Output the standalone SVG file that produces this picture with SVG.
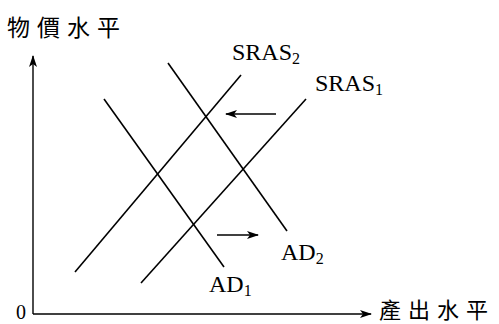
<svg xmlns="http://www.w3.org/2000/svg" width="499" height="324" viewBox="0 0 499 324">
<defs>
<marker id="ah" viewBox="0 0 12 8" refX="11" refY="4" markerWidth="12" markerHeight="8" markerUnits="userSpaceOnUse" orient="auto">
<path d="M0,0 L12,4 L0,8 L3,4 Z" fill="#000"/>
</marker>
</defs>
<style>
.ln{stroke:#000;stroke-width:1.6;fill:none}
.ax{stroke:#000;stroke-width:1.4;fill:none}
.lab{font-family:"Liberation Serif",serif;font-size:24px;fill:#000}
.sub{font-size:16px}
.cjk{font-family:"Noto Sans CJK TC","Noto Sans CJK SC",sans-serif;font-size:23px;fill:#000;letter-spacing:7px}
</style>
<rect width="499" height="324" fill="#fff"/>
<g id="axes">
<line class="ax" x1="33" y1="314" x2="33" y2="56" marker-end="url(#ah)"/>
<line class="ax" x1="33" y1="314" x2="371" y2="314" marker-end="url(#ah)"/>
<text x="16" y="319" style="font-family:'Liberation Serif',serif;font-size:20px">0</text>
</g>
<g id="y-label"><text class="cjk" x="7" y="36">物價水平</text></g>
<g id="x-label"><text class="cjk" x="379" y="318" style="font-size:22px">產出水平</text></g>
<g id="connectors">
<line id="sras2" class="ln" x1="75" y1="272" x2="241" y2="75"/>
<line id="sras1" class="ln" x1="141" y1="283" x2="306" y2="99"/>
<line id="ad2" class="ln" x1="168" y1="63" x2="287" y2="231"/>
<line id="ad1" class="ln" x1="104" y1="99" x2="224" y2="267"/>
<line id="shift-left" class="ln" x1="276" y1="114" x2="226" y2="114" marker-end="url(#ah)"/>
<line id="shift-right" class="ln" x1="217" y1="235" x2="258" y2="235" marker-end="url(#ah)"/>
</g>
<g id="label-sras2"><text class="lab" x="232" y="60">SRAS<tspan class="sub" dy="4">2</tspan></text></g>
<g id="label-sras1"><text class="lab" x="315" y="91">SRAS<tspan class="sub" dy="4">1</tspan></text></g>
<g id="label-ad2"><text class="lab" x="281" y="260">AD<tspan class="sub" dy="4">2</tspan></text></g>
<g id="label-ad1"><text class="lab" x="209" y="292">AD<tspan class="sub" dy="4">1</tspan></text></g>
</svg>
